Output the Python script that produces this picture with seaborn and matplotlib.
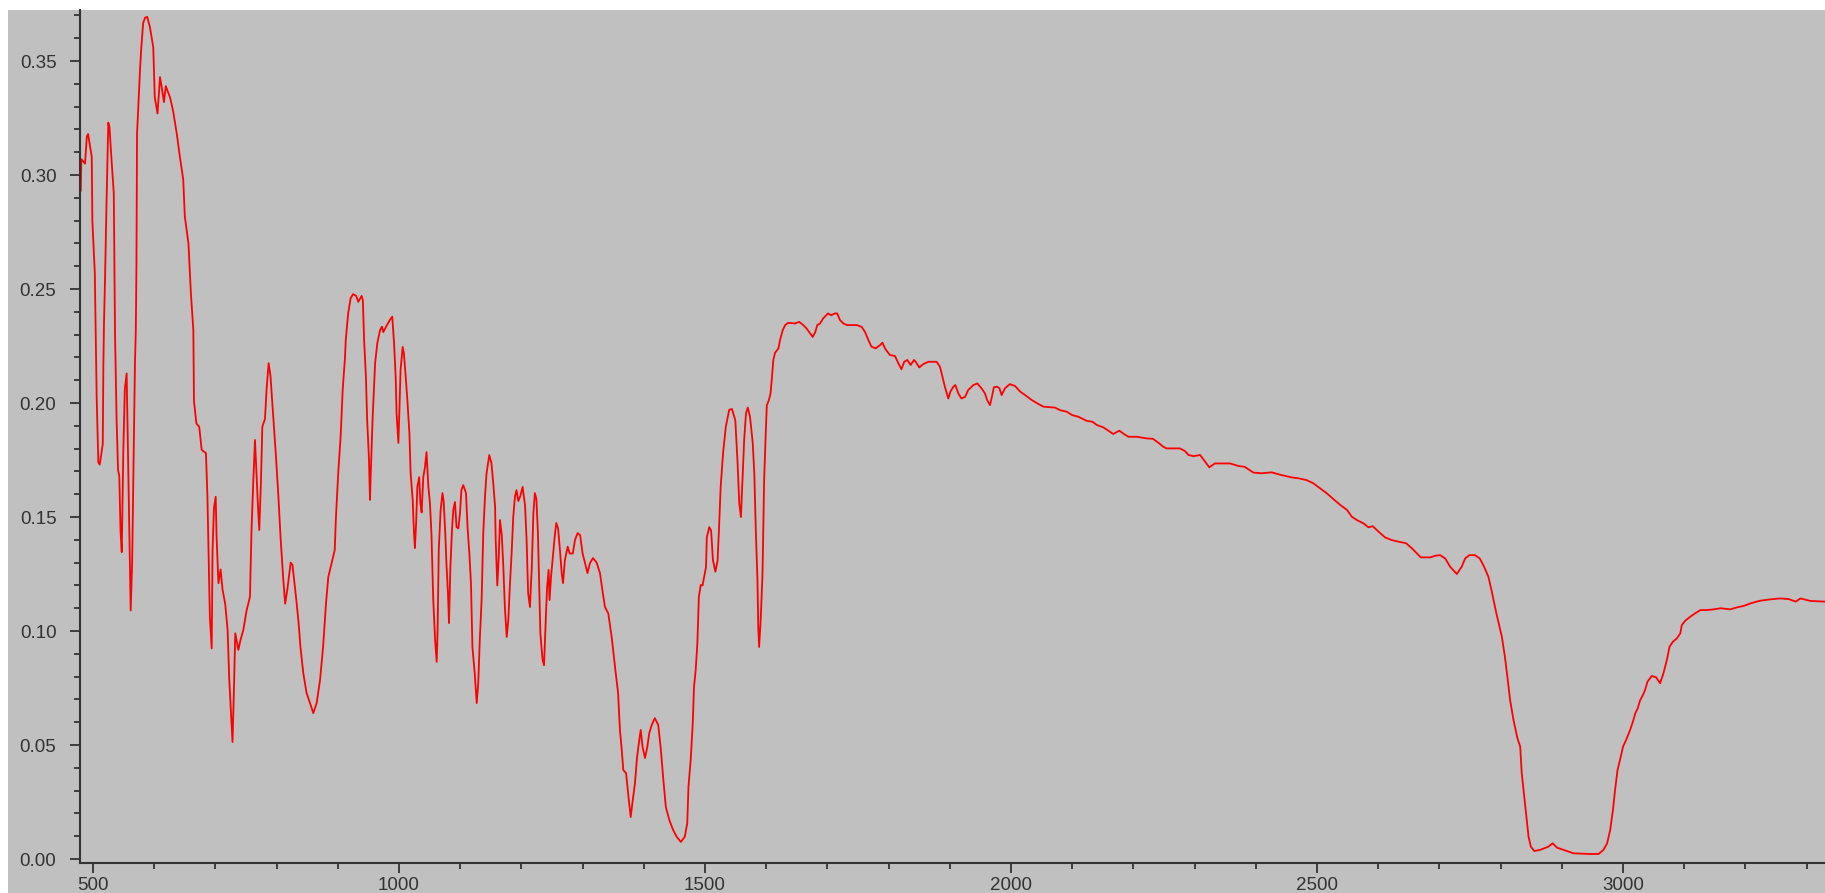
import matplotlib
matplotlib.use("Agg")
import matplotlib.pyplot as plt
from matplotlib.patches import Rectangle
from matplotlib.ticker import MultipleLocator, FormatStrFormatter
import seaborn as sns
import pandas as pd

# IR absorbance spectrum: wavenumber (cm-1) and absorbance
wavenumber = [
    480, 481, 487, 490, 492, 498, 499, 503, 506, 508.7, 511, 516, 517, 518, 519.6,
    522, 525, 527, 530, 534, 536, 538.6, 541, 543, 545, 547, 549.5, 552, 555, 557,
    559, 561.6, 564, 566, 568.6, 570, 571, 572, 577, 579, 582, 585, 588.6, 593, 598.5,
    601, 605.5, 609.5, 612, 616, 619, 626, 631, 637, 642, 647.5, 650, 656, 660, 664,
    665, 669, 673.6, 677.6, 684.6, 687, 689, 691, 694, 695.4, 697.7, 700.5, 702, 705,
    708.5, 711.8, 716, 720, 722.7, 725.5, 728, 730, 732.5, 737.5, 741, 745.6, 751,
    756.5, 759, 762, 764.7, 767, 769.6, 771.7, 774.5, 776.7, 781, 783.6, 787, 790,
    794.6, 799, 803, 806.5, 811, 814, 817.5, 823, 826, 831.7, 836, 839, 843.6, 849,
    854.6, 860, 865.5, 871, 876, 880.7, 884.5, 890, 895, 897, 901, 904.6, 908, 911.8,
    913, 917, 921, 925, 930, 933.5, 939, 941, 943, 946, 948, 951, 952.6, 954, 957,
    961, 964.6, 969, 972, 974.4, 980, 985, 989, 992, 994.6, 996, 999, 1000.6, 1002.6,
    1006, 1008, 1011, 1014, 1017, 1019, 1022.4, 1024.5, 1026, 1028, 1030, 1033, 1035,
    1037, 1039.7, 1042.5, 1045, 1048, 1050.6, 1053, 1056, 1059, 1061.6, 1063, 1065,
    1068, 1071, 1073, 1075.6, 1077.8, 1080, 1081.7, 1084, 1086.6, 1088.7, 1091.5,
    1094, 1097, 1099.7, 1102, 1105, 1109.5, 1112, 1115, 1117.6, 1120, 1123.7, 1127,
    1129.5, 1132, 1135, 1137.7, 1140.5, 1143, 1147.5, 1151, 1154, 1157, 1158, 1160.6,
    1163, 1165, 1168, 1170.5, 1173, 1176, 1178.6, 1181, 1184, 1186.7, 1189.5, 1192,
    1195, 1198, 1202, 1206, 1208.5, 1211, 1214, 1217, 1219.6, 1222, 1224.5, 1227,
    1229, 1231, 1234.6, 1237, 1240, 1242, 1244.5, 1246, 1248.5, 1252, 1255, 1257,
    1260, 1263, 1266, 1268, 1271, 1275.6, 1279, 1284, 1287.6, 1292, 1296, 1300, 1304,
    1308, 1312, 1317, 1323, 1328.4, 1333, 1336.6, 1342, 1347.5, 1353, 1358, 1361,
    1364, 1366.5, 1371, 1375, 1378.6, 1382, 1385.6, 1389, 1392.6, 1395, 1398, 1402,
    1405.7, 1409, 1413, 1418, 1423.6, 1427.5, 1432, 1436, 1441.7, 1448, 1453.6,
    1460.6, 1467, 1471, 1473, 1476.6, 1480, 1482, 1484.8, 1487.5, 1490, 1493, 1496,
    1501.6, 1503, 1507, 1510, 1513, 1517, 1520.6, 1523, 1525.6, 1529.5, 1534, 1539.5,
    1544, 1549.5, 1553, 1556, 1558.7, 1561.6, 1564, 1567, 1570, 1573.6, 1578, 1580.6,
    1583, 1585.7, 1587, 1588.4, 1591, 1594, 1596.6, 1599, 1601, 1604, 1607, 1609,
    1611.7, 1614.4, 1620, 1622.6, 1627, 1631, 1636, 1647, 1654, 1660.6, 1666, 1671.6,
    1676, 1680, 1683.5, 1688, 1693, 1701, 1706, 1712, 1716, 1720.6, 1726, 1732,
    1739.5, 1748, 1756, 1761.4, 1767, 1772, 1779, 1786, 1790, 1794, 1798, 1802,
    1810.5, 1816, 1821, 1825.5, 1830.6, 1836, 1841.5, 1845, 1850, 1856.7, 1865,
    1878.5, 1884, 1888, 1892, 1897.5, 1901, 1905.6, 1909, 1914, 1919, 1925, 1930,
    1938.5, 1945, 1952, 1957.5, 1961, 1965.7, 1969.4, 1972, 1977, 1981, 1984.7, 1990,
    1998, 2006.5, 2015, 2023, 2034, 2044.6, 2053, 2072, 2080, 2091, 2100, 2110,
    2123.5, 2133, 2140, 2151, 2159, 2167, 2177, 2184, 2192, 2206, 2221.5, 2232,
    2240.7, 2249, 2254, 2276, 2284, 2290, 2298, 2309, 2317, 2324, 2333, 2358, 2371.5,
    2382, 2396, 2409.5, 2426, 2442, 2458.5, 2469.5, 2483, 2494, 2505, 2516, 2527,
    2538, 2549, 2557, 2565, 2576, 2584, 2591, 2600.5, 2611, 2622, 2633, 2645.5, 2655,
    2663, 2669.5, 2685, 2693, 2701, 2709.5, 2717.5, 2728.4, 2736.4, 2742, 2749, 2758,
    2766, 2773, 2780, 2785, 2793, 2802, 2807, 2811, 2815.5, 2821, 2827.5, 2832,
    2834.5, 2838, 2841.5, 2845.6, 2849.4, 2855, 2864.5, 2878, 2885, 2892, 2903, 2919,
    2946.5, 2960, 2968, 2974, 2979, 2983.5, 2987, 2991, 2995, 3000, 3005, 3011.6,
    3017, 3020, 3024, 3028, 3032.5, 3036, 3040, 3047, 3054, 3060.5, 3066, 3071.6,
    3076, 3081.5, 3088, 3093.6, 3096, 3101.6, 3110, 3118, 3126.6, 3137.5, 3148,
    3159.5, 3175, 3186.6, 3197, 3208, 3224, 3241, 3257, 3271, 3282, 3290, 3306, 3330,
]

absorbance = [
    0.293, 0.307, 0.305, 0.317, 0.318, 0.308, 0.280, 0.257, 0.203, 0.174, 0.173, 0.182, 0.217, 0.235, 0.253,
    0.286, 0.323, 0.321, 0.308, 0.292, 0.231, 0.1925, 0.1706, 0.168, 0.144, 0.1346, 0.178, 0.206, 0.213, 0.182,
    0.150, 0.109, 0.130, 0.169, 0.2175, 0.232, 0.26, 0.318, 0.347, 0.356, 0.3667, 0.369, 0.3694, 0.365, 0.356,
    0.334, 0.327, 0.343, 0.339, 0.332, 0.339, 0.334, 0.328, 0.318, 0.308, 0.298, 0.282, 0.270, 0.248, 0.232,
    0.201, 0.191, 0.1896, 0.1795, 0.178, 0.159, 0.1326, 0.106, 0.0924, 0.1355, 0.154, 0.1589, 0.141, 0.121,
    0.127, 0.118, 0.112, 0.1004, 0.0785, 0.064, 0.0513, 0.071, 0.099, 0.0917, 0.096, 0.1004, 0.109,
    0.115, 0.144, 0.166, 0.1838, 0.170, 0.1545, 0.1443, 0.166, 0.1896, 0.193, 0.2057, 0.2175, 0.212,
    0.194, 0.1765, 0.1589, 0.141, 0.1224, 0.112, 0.118, 0.130, 0.129, 0.115, 0.1035, 0.093, 0.0816, 0.0728,
    0.0684, 0.064, 0.0684, 0.0785, 0.093, 0.112, 0.1237, 0.1298, 0.1355, 0.150, 0.1706, 0.185, 0.2057, 0.220,
    0.2276, 0.2394, 0.246, 0.2478, 0.247, 0.2444, 0.247, 0.245, 0.2276, 0.2114, 0.1925, 0.175, 0.1575, 0.170, 0.1939,
    0.2175, 0.2263, 0.232, 0.2335, 0.2311, 0.234, 0.2364, 0.2379, 0.226, 0.2114, 0.1956, 0.1825, 0.196, 0.2145,
    0.2246, 0.2218, 0.2114, 0.200, 0.1868, 0.1693, 0.1575, 0.143, 0.1364, 0.1474, 0.1632, 0.1675, 0.156,
    0.152, 0.1675, 0.172, 0.1785, 0.1632, 0.156, 0.143, 0.1136, 0.096, 0.0865, 0.099, 0.1355,
    0.153, 0.1605, 0.157, 0.143, 0.128, 0.1167, 0.1035, 0.128, 0.1443, 0.153, 0.1566,
    0.1456, 0.145, 0.1518, 0.1618, 0.164, 0.1605, 0.1456, 0.134, 0.121, 0.093, 0.0816, 0.0684,
    0.077, 0.096, 0.1136, 0.143, 0.1589, 0.169, 0.1772, 0.1737, 0.165, 0.1545, 0.140, 0.120,
    0.1326, 0.1487, 0.142, 0.128, 0.1105, 0.0974, 0.1048, 0.119, 0.134, 0.150, 0.159, 0.1618,
    0.157, 0.159, 0.1632, 0.155, 0.140, 0.1167, 0.1105, 0.128, 0.1518, 0.1605, 0.158, 0.143,
    0.121, 0.099, 0.0873, 0.085, 0.1063, 0.119, 0.1268, 0.1136, 0.124, 0.134, 0.143, 0.1474,
    0.145, 0.1355, 0.125, 0.121, 0.131, 0.137, 0.134, 0.134, 0.140, 0.143, 0.142, 0.134, 0.1298,
    0.1254, 0.1298, 0.132, 0.130, 0.1254, 0.1167, 0.1105, 0.1077, 0.0974, 0.0842, 0.0728, 0.0566,
    0.0478, 0.039, 0.0377, 0.0272, 0.0184, 0.0259, 0.0333, 0.0447, 0.0522, 0.0566, 0.0491, 0.0443,
    0.0491, 0.0553, 0.0588, 0.0618, 0.0588, 0.0491, 0.0346, 0.0228, 0.0171, 0.0127, 0.0098,
    0.0075, 0.0098, 0.0157, 0.0317, 0.0434, 0.0596, 0.0754, 0.0829, 0.0946, 0.115, 0.1202, 0.120,
    0.128, 0.1412, 0.1456, 0.144, 0.131, 0.126, 0.131, 0.1456, 0.1632, 0.178, 0.1896, 0.197,
    0.1974, 0.1925, 0.175, 0.156, 0.150, 0.169, 0.1838, 0.1956, 0.198, 0.1939, 0.1825, 0.169,
    0.1443, 0.1224, 0.1018, 0.093, 0.1048, 0.1254, 0.166, 0.185, 0.199, 0.201, 0.204, 0.210,
    0.219, 0.222, 0.224, 0.2276, 0.232, 0.2342, 0.2352, 0.2349, 0.2356, 0.2342, 0.2327, 0.2306,
    0.229, 0.231, 0.2342, 0.2349, 0.2371, 0.2393, 0.2385, 0.2393, 0.2393, 0.2364, 0.2349, 0.2342,
    0.2342, 0.2342, 0.2334, 0.2312, 0.2276, 0.2247, 0.224, 0.2254, 0.2265, 0.224, 0.2225, 0.2211,
    0.2206, 0.2174, 0.2148, 0.2181, 0.2189, 0.2167, 0.2189, 0.2178, 0.2156, 0.2171, 0.2181,
    0.2181, 0.2159, 0.2115, 0.2071, 0.202, 0.205, 0.2071, 0.2079, 0.2042, 0.202, 0.2027, 0.2057,
    0.2079, 0.2086, 0.2064, 0.2042, 0.2013, 0.1991, 0.2035, 0.2069, 0.2072, 0.2065, 0.2035, 0.2064,
    0.2083, 0.2075, 0.205, 0.2035, 0.2013, 0.1996, 0.1984, 0.198, 0.1969, 0.1962, 0.1947, 0.194,
    0.1922, 0.1918, 0.1904, 0.1893, 0.1879, 0.1864, 0.1879, 0.1865, 0.1852, 0.1852, 0.1845, 0.1843,
    0.1826, 0.1808, 0.1801, 0.1801, 0.179, 0.1772, 0.1767, 0.1772, 0.1743, 0.1718, 0.1735, 0.1735, 0.1724,
    0.172, 0.1695, 0.1692, 0.1696, 0.1684, 0.1674, 0.167, 0.1662, 0.1648, 0.1626, 0.1604, 0.1578,
    0.1553, 0.1531, 0.1501, 0.1487, 0.1472, 0.1455, 0.146, 0.1436, 0.1411, 0.1399, 0.1392, 0.1385, 0.1363,
    0.1341, 0.1323, 0.1323, 0.133, 0.1333, 0.1318, 0.1282, 0.125, 0.1282, 0.1318, 0.1333, 0.1333,
    0.1318, 0.1282, 0.1238, 0.118, 0.1078, 0.0975, 0.0887, 0.080, 0.0697, 0.061, 0.0529, 0.0493,
    0.0376, 0.0288, 0.020, 0.0098, 0.0054, 0.0035, 0.004, 0.0054, 0.0069, 0.005, 0.004, 0.0025,
    0.0022, 0.0022, 0.004, 0.0069, 0.0127, 0.0215, 0.0303, 0.039, 0.0434, 0.0493, 0.0522, 0.0566,
    0.061, 0.0639, 0.0661, 0.0697, 0.0719, 0.0741, 0.0778, 0.0803, 0.0797, 0.0771, 0.0814, 0.0873,
    0.0931, 0.0953, 0.0968, 0.099, 0.1026, 0.1045, 0.1063, 0.1078, 0.1092, 0.1092, 0.1095,
    0.11, 0.1095, 0.1104, 0.111, 0.1121, 0.1133, 0.1139, 0.1143, 0.114, 0.1129, 0.1143, 0.1132, 0.1129,
]

# Axis tick settings
x_major_ticks = [500, 1000, 1500, 2000, 2500, 3000]
y_major_ticks = [0.00, 0.05, 0.10, 0.15, 0.20, 0.25, 0.30, 0.35]

PANEL = "#c0c0c0"
INK = "#333333"

sns.set_theme(style="ticks")
plt.rcParams["font.family"] = ["Liberation Sans Narrow", "Liberation Sans", "DejaVu Sans"]

W, H = 1825, 893
fig = plt.figure(figsize=(W / 100, H / 100), dpi=100, facecolor="white")
# grey panel behind the plot (thin white margin on top and left)
fig.patches.append(Rectangle((8 / W, 0), 1 - 8 / W, (H - 10) / H,
                             transform=fig.transFigure, facecolor=PANEL,
                             edgecolor="none", zorder=-10))

ax = fig.add_axes([80 / W, 30 / H, (W - 80) / W, (H - 10 - 30) / H])
ax.set_facecolor(PANEL)

df = pd.DataFrame({"wavenumber": wavenumber, "absorbance": absorbance})
sns.lineplot(data=df, x="wavenumber", y="absorbance", sort=False, estimator=None,
             color="#ff0000", linewidth=1.3, ax=ax)

ax.set_xlim(478.8, 3330)
ax.set_ylim(-0.00175, 0.3724)
ax.set_xticks(x_major_ticks)
ax.set_yticks(y_major_ticks)
ax.xaxis.set_minor_locator(MultipleLocator(100))
ax.yaxis.set_minor_locator(MultipleLocator(0.01))
ax.yaxis.set_major_formatter(FormatStrFormatter("%.2f"))
ax.xaxis.set_major_formatter(FormatStrFormatter("%d"))
ax.set_xlabel("")
ax.set_ylabel("")

for side in ("top", "right"):
    ax.spines[side].set_visible(False)
for side in ("left", "bottom"):
    ax.spines[side].set_color(INK)
    ax.spines[side].set_linewidth(1.5)

ax.tick_params(axis="both", which="major", direction="out", length=7, width=1.3,
               color=INK, labelcolor=INK, labelsize=13.5)
ax.tick_params(axis="both", which="minor", direction="out", length=4.5, width=1.3,
               color=INK)
ax.tick_params(axis="y", which="major", pad=10)
ax.tick_params(axis="x", which="major", pad=3)
ax.grid(False)

fig.savefig("out.png", dpi=100, facecolor=fig.get_facecolor())
